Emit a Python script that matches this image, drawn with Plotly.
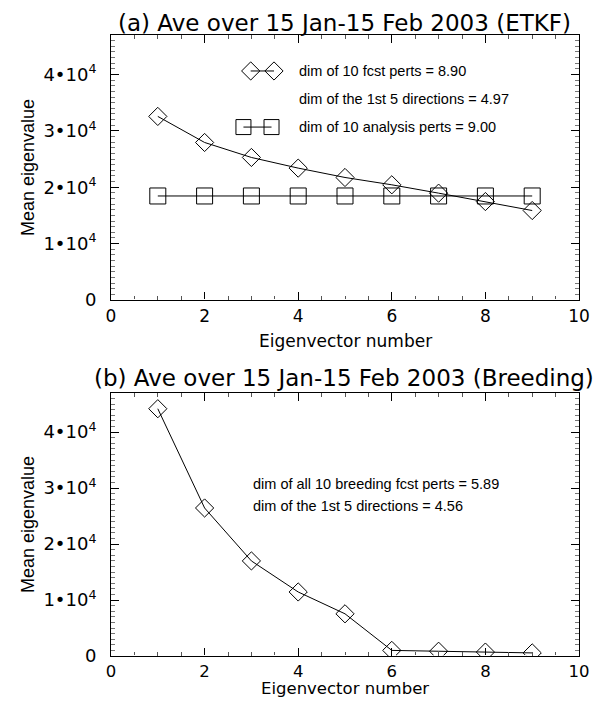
import plotly.graph_objects as go

# ---------------- data ----------------
eig_num = [1, 2, 3, 4, 5, 6, 7, 8, 9]
etkf_fcst = [32560, 27940, 25280, 23390, 21730, 20430, 18950, 17460, 15870]
etkf_anal = [18450, 18450, 18450, 18450, 18450, 18450, 18450, 18450, 18450]
breed_fcst = [44190, 26450, 16990, 11440, 7540, 1000, 850, 700, 550]

xtick_vals = [0, 2, 4, 6, 8, 10]
xtick_text = ["0", "2", "4", "6", "8", "10"]
ytick_vals = [0, 10000, 20000, 30000, 40000]
ytick_text = ["0", "1•10<sup>4</sup>", "2•10<sup>4</sup>", "3•10<sup>4</sup>", "4•10<sup>4</sup>"]

title_a = "(a) Ave over 15 Jan-15 Feb 2003 (ETKF)"
title_b = "(b) Ave over 15 Jan-15 Feb 2003 (Breeding)"
x_title = "Eigenvector number"
y_title = "Mean eigenvalue"
text_a = ["dim of 10 fcst perts = 8.90",
          "dim of the 1st 5 directions = 4.97",
          "dim of 10 analysis perts = 9.00"]
text_b = ["dim of all 10 breeding fcst perts = 5.89",
          "dim of the 1st 5 directions = 4.56"]

# ---------------- figure ----------------
WIDE = "DejaVu Sans, Verdana, sans-serif"
FONT = "Liberation Sans, Arial, Helvetica, sans-serif"
OFF = 8                      # page body margin
W, H = 616 - 2 * OFF, 707 - 2 * OFF
ML, MR, MT, MB = 111 - OFF, W - (579 - OFF), 35 - OFF, H - (656 - OFF)
PW, PH = W - ML - MR, H - MT - MB


def py(pix):
    """screen pixel row -> paper y"""
    return (H - MB - (pix - OFF)) / PH


def px(pix):
    """screen pixel column -> paper x"""
    return (pix - OFF - ML) / PW


fig = go.Figure()

line_style = dict(color="black", width=1)
diamond = dict(symbol="diamond-open", size=14, color="black", line=dict(width=1, color="black"))
square = dict(symbol="square-open", size=16, color="black", line=dict(width=1, color="black"))

# panel (a)
fig.add_trace(go.Scatter(x=eig_num, y=etkf_anal, mode="lines+markers", line=line_style,
                         marker=square, xaxis="x", yaxis="y", showlegend=False))
fig.add_trace(go.Scatter(x=eig_num, y=etkf_fcst, mode="lines+markers", line=line_style,
                         marker=diamond, xaxis="x", yaxis="y", showlegend=False))
# legend-like symbols in panel (a)
fig.add_trace(go.Scatter(x=[2.985, 3.483], y=[40620, 40620], mode="lines+markers", line=line_style,
                         marker=diamond, xaxis="x", yaxis="y", showlegend=False))
fig.add_trace(go.Scatter(x=[2.83, 3.43], y=[30670, 30670], mode="lines+markers", line=line_style,
                         marker=dict(symbol="square-open", size=15, color="black",
                                     line=dict(width=1, color="black")),
                         xaxis="x", yaxis="y", showlegend=False))

# panel (b)
fig.add_trace(go.Scatter(x=eig_num, y=breed_fcst, mode="lines+markers", line=line_style,
                         marker=diamond, xaxis="x2", yaxis="y2", showlegend=False))

xa = dict(range=[0, 10], tickvals=xtick_vals, ticktext=xtick_text, ticks="inside", ticklen=8,
          tickwidth=1, tickcolor="black", showline=True, linecolor="black", linewidth=1,
          mirror="ticks", showgrid=False, zeroline=False,
          minor=dict(dtick=0.5, tick0=0, ticks="inside", ticklen=4, tickcolor="#555", tickwidth=1),
          tickfont=dict(family=WIDE, size=17, color="black"), ticklabelstandoff=1)
ya = dict(range=[0, 47000], tickvals=ytick_vals, ticktext=ytick_text, ticks="inside", ticklen=8,
          tickwidth=1, tickcolor="black", showline=True, linecolor="black", linewidth=1,
          mirror="ticks", showgrid=False, zeroline=False,
          minor=dict(dtick=1000, tick0=0, ticks="inside", ticklen=4, tickcolor="#777", tickwidth=1),
          tickfont=dict(family=WIDE, size=18, color="black"), ticklabelstandoff=10)

xa2 = dict(xa, tickfont=dict(family=WIDE, size=16.5, color="black"), ticklabelstandoff=0)

fig.update_layout(
    width=W, height=H,
    margin=dict(l=ML, r=MR, t=MT, b=MB, autoexpand=False),
    paper_bgcolor="white", plot_bgcolor="white",
    font=dict(family=FONT, color="black"),
    xaxis=dict(xa, domain=[0, 1], anchor="y"),
    yaxis=dict(ya, domain=[py(300), 1], anchor="x"),
    xaxis2=dict(xa2, domain=[0, 1], anchor="y2"),
    yaxis2=dict(ya, domain=[0, py(393)], anchor="x2"),
)

ann = []
ann.append(dict(text=title_a, xref="paper", yref="paper", x=px(344), y=py(23),
                showarrow=False, font=dict(size=23, family=WIDE), xanchor="center", yanchor="middle"))
ann.append(dict(text=title_b, xref="paper", yref="paper", x=px(344), y=py(378),
                showarrow=False, font=dict(size=23, family=WIDE), xanchor="center", yanchor="middle"))
ann.append(dict(text=x_title, xref="paper", yref="paper", x=px(345), y=py(341),
                showarrow=False, font=dict(size=17, family=WIDE), xanchor="center", yanchor="middle"))
ann.append(dict(text=x_title, xref="paper", yref="paper", x=px(345), y=py(699),
                showarrow=False, font=dict(size=16.5, family=WIDE), xanchor="center", yanchor="bottom",
                borderpad=0))
for ypix in (168, 525):
    ann.append(dict(text=y_title, xref="paper", yref="paper", x=px(28), y=py(ypix),
                    textangle=-90, showarrow=False, font=dict(size=18, family=FONT),
                    xanchor="center", yanchor="middle"))
for t, yv in zip(text_a, [40670, 35700, 30730]):
    ann.append(dict(text=t, xref="x", yref="y", x=3.98, y=yv, showarrow=False, xanchor="left",
                    yanchor="middle", font=dict(size=14.5, family=FONT)))
for t, yv in zip(text_b, [30760, 26860]):
    ann.append(dict(text=t, xref="x2", yref="y2", x=3.0, y=yv, showarrow=False, xanchor="left",
                    yanchor="middle", font=dict(size=14.5, family=FONT)))
fig.update_layout(annotations=ann)

# dashed look of the bottom axis line (white gaps laid over it)
shapes = []
for xr, yr in (("x", "y"), ("x2", "y2")):
    shapes.append(dict(type="line", xref=xr, yref=yr, x0=0.05, x1=9.95, y0=0, y1=0,
                       line=dict(color="white", width=2, dash="3px,7px"), layer="above"))
fig.update_layout(shapes=shapes)

fig.write_html("out.html")
